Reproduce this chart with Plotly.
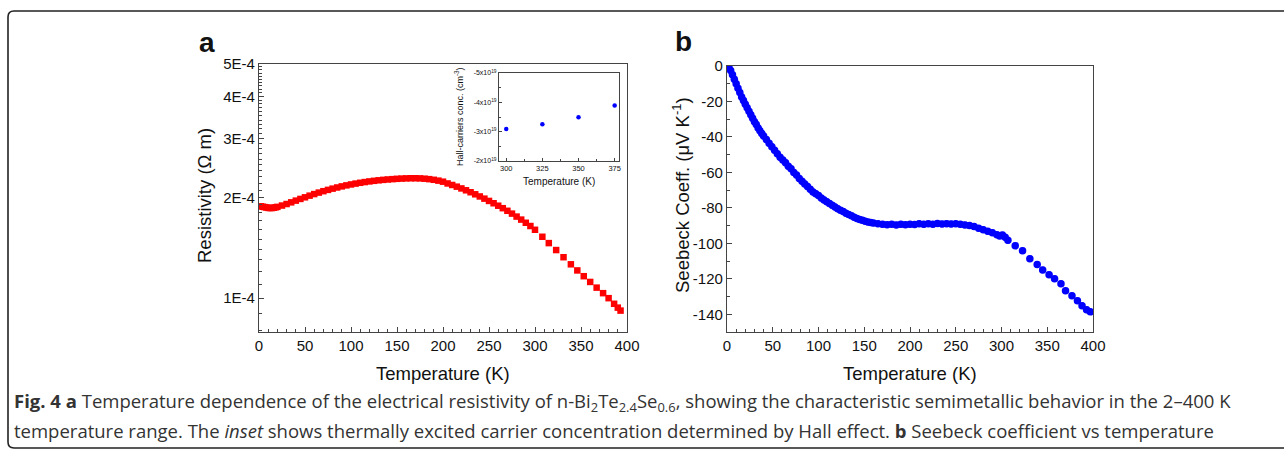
import plotly.graph_objects as go

W, H = 1284, 453

# ---------------- data ----------------
T_rho = [2, 4, 6, 8, 10, 12, 14, 16, 18, 20,
         25, 30, 35, 40, 45, 50, 55, 60, 65, 70, 75, 80, 85, 90, 95, 100,
         105, 110, 115, 120, 125, 130, 135, 140, 145, 150, 155, 160, 165, 170,
         175, 180, 185, 190, 195, 200, 205, 210, 215, 220, 225, 230, 235, 240,
         245, 250, 255, 260, 265, 270, 275, 280, 285, 290, 295, 300,
         308, 315, 323, 331, 339, 346, 353, 360, 367, 374, 380, 386, 390, 393]
rho = [1.880e-4, 1.875e-4, 1.870e-4, 1.865e-4, 1.860e-4, 1.858e-4, 1.858e-4, 1.862e-4, 1.867e-4, 1.873e-4,
       1.890e-4, 1.910e-4, 1.932e-4, 1.955e-4, 1.978e-4, 2.000e-4, 2.023e-4, 2.045e-4, 2.066e-4, 2.086e-4,
       2.105e-4, 2.123e-4, 2.140e-4, 2.156e-4, 2.171e-4, 2.185e-4,
       2.198e-4, 2.210e-4, 2.221e-4, 2.231e-4, 2.240e-4, 2.248e-4, 2.255e-4, 2.261e-4, 2.266e-4, 2.271e-4,
       2.275e-4, 2.278e-4, 2.280e-4, 2.280e-4, 2.278e-4, 2.273e-4, 2.266e-4, 2.256e-4, 2.243e-4, 2.227e-4,
       2.200e-4, 2.177e-4, 2.152e-4, 2.126e-4, 2.099e-4, 2.071e-4, 2.042e-4, 2.012e-4, 1.982e-4, 1.951e-4,
       1.920e-4, 1.888e-4, 1.856e-4, 1.823e-4, 1.788e-4, 1.752e-4, 1.716e-4, 1.679e-4, 1.642e-4, 1.600e-4,
       1.525e-4, 1.460e-4, 1.392e-4, 1.325e-4, 1.262e-4, 1.210e-4, 1.163e-4, 1.118e-4, 1.075e-4, 1.035e-4,
       1.000e-4, 0.962e-4, 0.937e-4, 0.918e-4]

T_S = [2, 4, 6, 8, 10, 12, 14, 16, 18, 20, 22, 24, 26, 28, 30, 32, 34, 36, 38, 40,
       43, 46, 49, 52, 55, 58, 61, 64, 67, 70, 73, 76, 79, 82, 85, 88, 91, 94, 97, 100,
       103, 106, 109, 112, 115, 118, 121, 124, 127, 130, 133, 136, 139, 142, 145, 148, 151, 154, 157, 160,
       165, 170, 175, 180, 185, 190, 195, 200, 205, 210, 215, 220, 225, 230, 235, 240, 245, 250,
       255, 260, 265, 270, 275, 280, 285, 290, 295,
       298, 301, 304, 307, 315, 323, 331, 339, 345, 352, 358, 365, 370, 377, 383, 388, 393, 397]
S = [-0.5, -2.5, -5, -7.5, -10, -12.5, -15, -17.5, -19.5, -21.5, -23.5, -25.5, -27.5, -29.5, -31.5,
     -33, -35, -36.5, -38, -39.5,
     -41.5, -43.5, -45.5, -47.5, -49.5, -51.5, -53, -54.5, -56.5, -58, -60, -61.5, -63.5, -65, -66.5,
     -68, -69.5, -71, -72, -73, -74.5, -75.5, -76.5, -77.5, -78.5, -79.5, -80.5, -81.3, -82, -83,
     -83.8, -84.5, -85.3, -86, -86.5, -87, -87.5, -88, -88.3, -88.6,
     -89, -89.3, -89.5, -89.2, -89.6, -89.3, -89.5, -89.2, -89.4, -89, -89.3, -89, -89.2, -88.8,
     -89.1, -88.9, -89.1, -89, -89.3, -89.6, -90, -90.5, -91.5, -92.3, -93.2, -94, -95.2,
     -95.8, -95.3, -96.5, -98.3, -101.4, -104.2, -108.7, -112, -115, -117.7, -120, -122.8, -126.8,
     -129.6, -132.4, -135.2, -137.5, -138.6]

T_hall = [300, 325, 350, 375]
n_hall = [-3.09e19, -3.25e19, -3.49e19, -3.89e19]

temp_tickvals = [0, 50, 100, 150, 200, 250, 300, 350, 400]
seebeck_tickvals = [0, -20, -40, -60, -80, -100, -120, -140]
seebeck_ticktext = ["0", "-20", "-40", "-60", "-80", "-100", "-120", "-140"]
rho_tickvals = [1e-4, 2e-4, 3e-4, 4e-4, 5e-4]
rho_ticktext = ["1E-4", "2E-4", "3E-4", "4E-4", "5E-4"]
rho_minor = [0.8e-4, 0.9e-4, 1.1e-4, 1.2e-4, 1.3e-4, 1.4e-4, 1.5e-4, 1.6e-4, 1.7e-4, 1.8e-4, 1.9e-4,
             2.1e-4, 2.2e-4, 2.3e-4, 2.4e-4, 2.5e-4, 2.6e-4, 2.7e-4, 2.8e-4, 2.9e-4,
             3.1e-4, 3.2e-4, 3.3e-4, 3.4e-4, 3.5e-4, 3.6e-4, 3.7e-4, 3.8e-4, 3.9e-4,
             4.1e-4, 4.2e-4, 4.3e-4, 4.4e-4, 4.5e-4, 4.6e-4, 4.7e-4, 4.8e-4, 4.9e-4]
hall_T_tickvals = [300, 325, 350, 375]
hall_tickvals = [-5e19, -4e19, -3e19, -2e19]
hall_ticktext = ["-5x10<sup>19</sup>", "-4x10<sup>19</sup>", "-3x10<sup>19</sup>", "-2x10<sup>19</sup>"]

# ---------------- helpers ----------------
def px(x):
    return x / W

def py(y):
    return 1 - y / H

FONT = "Liberation Sans, Arial, sans-serif"
AX = "#444444"

fig = go.Figure()

fig.add_trace(go.Scatter(x=T_rho, y=rho, mode="markers", xaxis="x", yaxis="y",
                         marker=dict(symbol="square", size=6.5, color="#ff0000"),
                         showlegend=False))
fig.add_trace(go.Scatter(x=T_S, y=S, mode="markers", xaxis="x2", yaxis="y2",
                         marker=dict(symbol="circle", size=7.5, color="#0000ff"),
                         error_y=dict(type="constant", value=1.5, color="#3333ff", thickness=1, width=2),
                         showlegend=False))
fig.add_trace(go.Scatter(x=T_hall, y=n_hall, mode="markers", xaxis="x3", yaxis="y3",
                         marker=dict(symbol="circle", size=4.5, color="#0000ff"),
                         showlegend=False))

common = dict(showline=True, linecolor=AX, linewidth=1.2, mirror=True, ticks="inside",
              tickcolor=AX, tickwidth=1, showgrid=False, zeroline=False, automargin=False,
              tickfont=dict(family=FONT, size=15, color="#111"))
small = {**common, "linewidth": 1}

fig.update_layout(
    template="none",
    width=W, height=H, margin=dict(l=0, r=0, t=0, b=0, pad=0, autoexpand=False),
    paper_bgcolor="white", plot_bgcolor="white", showlegend=False,
    xaxis=dict(domain=[px(259), px(627)], anchor="y", range=[0, 400],
               tickmode="array", tickvals=temp_tickvals, ticklen=5,
               minor=dict(dtick=10, tick0=0, ticklen=3, ticks="inside", tickcolor=AX), **common),
    yaxis=dict(domain=[py(332), py(64)], anchor="x", type="log", range=[-4.101, -3.301],
               tickmode="array", tickvals=rho_tickvals, ticktext=rho_ticktext, ticklen=5,
               minor=dict(tickmode="array", tickvals=rho_minor, ticklen=3, ticks="inside", tickcolor=AX),
               **common),
    xaxis2=dict(domain=[px(727), px(1093)], anchor="y2", range=[0, 400],
                tickmode="array", tickvals=temp_tickvals, ticklen=5,
                minor=dict(dtick=10, tick0=0, ticklen=3, ticks="inside", tickcolor=AX), **common),
    yaxis2=dict(domain=[py(332), py(66)], anchor="x2", range=[-150, 0],
                tickmode="array", tickvals=seebeck_tickvals, ticktext=seebeck_ticktext, ticklen=5,
                minor=dict(dtick=10, tick0=0, ticklen=3, ticks="inside", tickcolor=AX), **common),
    xaxis3=dict(domain=[px(499), px(619)], anchor="y3", range=[295, 378],
                tickmode="array", tickvals=hall_T_tickvals, ticklen=3,
                minor=dict(dtick=12.5, tick0=300, ticklen=2, ticks="inside", tickcolor=AX),
                **{**small, "tickfont": dict(family=FONT, size=7.5, color="#111")}),
    yaxis3=dict(domain=[py(161), py(73)], anchor="x3", range=[-2e19, -5e19],
                tickmode="array", tickvals=hall_tickvals, ticktext=hall_ticktext, ticklen=3,
                minor=dict(tickmode="array", tickvals=[-4.5e19, -3.5e19, -2.5e19], ticklen=2,
                           ticks="inside", tickcolor=AX),
                **{**small, "tickfont": dict(family=FONT, size=7, color="#111")}),
)

ann = []
def A(text, x, y, size, angle=0, family=FONT, color="#111", xanchor="center", yanchor="middle"):
    ann.append(dict(text=text, x=px(x), y=py(y), xref="paper", yref="paper", showarrow=False,
                    textangle=angle, xanchor=xanchor, yanchor=yanchor, borderpad=0,
                    font=dict(family=family, size=size, color=color)))

A("<b>a</b>", 207, 42, 28)
A("<b>b</b>", 684, 41, 28)
A("Temperature (K)", 443, 373, 18.5)
A("Temperature (K)", 910, 373, 18.5)
A("Resistivity (\u03a9 m)", 204, 196, 18.5, angle=-90)
A("Seebeck Coeff. (\u03bcV K<sup>-1</sup>)", 681, 195, 18.5, angle=-90)
A("Temperature (K)", 559, 181, 10)
A("Hall-carriers conc. (cm<sup>-3</sup>)", 459, 117, 9, angle=-90)

CAP = "Open Sans, Noto Sans, sans-serif"
A("<b>Fig. 4 a</b> Temperature dependence of the electrical resistivity of n-Bi<sub>2</sub>Te<sub>2.4</sub>Se<sub>0.6</sub>, "
  "showing the characteristic semimetallic behavior in the 2\u2013400 K", 13, 402, 18.5, family=CAP,
  color="#333", xanchor="left")
A("temperature range. The <i>inset</i> shows thermally excited carrier concentration determined by Hall effect. "
  "<b>b</b> Seebeck coefficient vs temperature", 13, 430, 18.5, family=CAP, color="#333", xanchor="left")

fig.update_layout(annotations=ann)

# rounded frame
r = 6
L, T, B, R = 8, 11, 448, 1295
path = (f"M {px(R)},{py(T)} L {px(L + r)},{py(T)} Q {px(L)},{py(T)} {px(L)},{py(T + r)} "
        f"L {px(L)},{py(B - r)} Q {px(L)},{py(B)} {px(L + r)},{py(B)} L {px(R)},{py(B)}")
fig.add_shape(type="path", path=path, xref="paper", yref="paper",
              line=dict(color="#222", width=1.6))

fig.write_html("out.html", config={"displayModeBar": False},
               post_script="document.body.style.margin='0px';")
